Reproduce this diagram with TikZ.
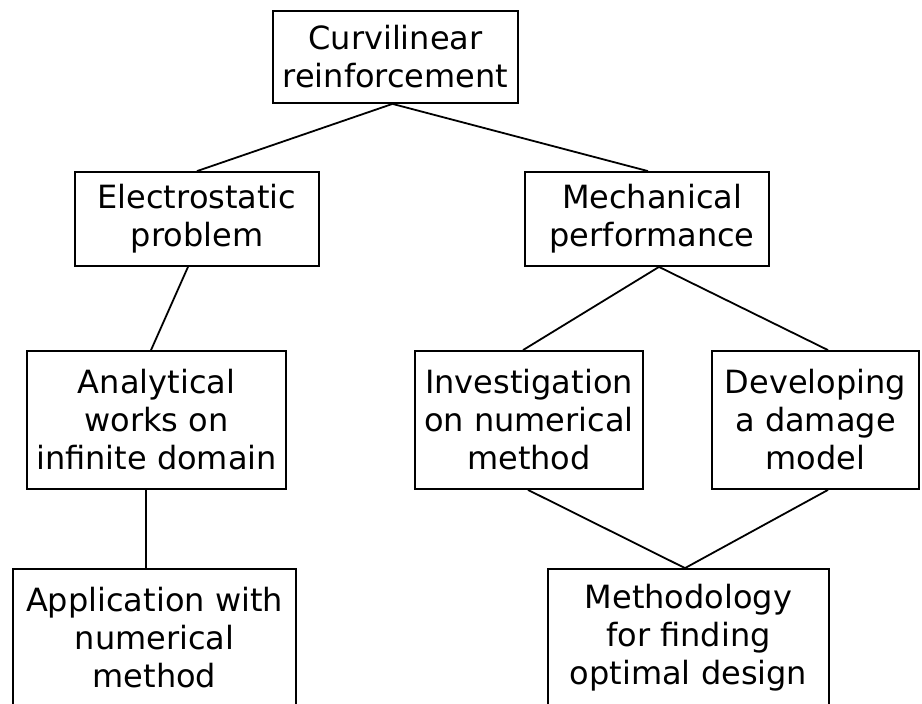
\documentclass[tikz,border=0pt]{standalone}
\usepackage{fontspec}
\setmainfont{DejaVu Sans}
\usepackage{tikz}
\usetikzlibrary{positioning}
\tikzset{
  topic/.style={rectangle, draw=black, line width=1.8pt, fill=white,
                align=center, inner sep=0pt,
                font=\fontsize{32}{38}\selectfont},
  link/.style={line width=1.8pt},
}

\begin{document}
\begin{tikzpicture}[x=1pt, y=-1pt]
  \useasboundingbox[fill=white] (0,0) rectangle (922,704);
  \node[topic, minimum width=245pt, minimum height=92pt]  (curv) at (395.5,57)
    {Curvilinear\\reinforcement};
  \node[topic, minimum width=244pt, minimum height=94pt]  (elec) at (197,219)
    {Electrostatic\\problem};
  \node[topic, minimum width=244pt, minimum height=94pt]  (mech) at (647,219)
    {~Mechanical\\~performance};
  \node[topic, minimum width=259pt, minimum height=138pt] (anal) at (156.5,420)
    {Analytical\\works on~\\infinite domain};
  \node[topic, minimum width=228pt, minimum height=138pt] (inv)  at (529,420)
    {Investigation\\on numerical\\method};
  \node[topic, minimum width=207pt, minimum height=138pt] (dmg)  at (815.5,420)
    {Developing\\a damage\\model};
  \node[topic, minimum width=283pt, minimum height=138pt] (appl) at (154.5,638)
    {Application with\\numerical~\\method};
  \node[topic, minimum width=281pt, minimum height=138pt] (meth) at (688.5,638)
    {Methodology\\for finding\\optimal design};
  \foreach \a/\ax/\b/\bx in {curv.south/-3/elec.north/0, curv.south/-3/mech.north/1,
      elec.south/-9/anal.north/-5.5, anal.south/-10.5/appl.north/-8.5,
      mech.south/12/inv.north/-6, mech.south/12/dmg.north/12.5,
      inv.south/-1/meth.north/-3.5, dmg.south/12.5/meth.north/-3.5}
    \draw[link] ([xshift=\ax pt]\a) -- ([xshift=\bx pt]\b);
\end{tikzpicture}
\end{document}
